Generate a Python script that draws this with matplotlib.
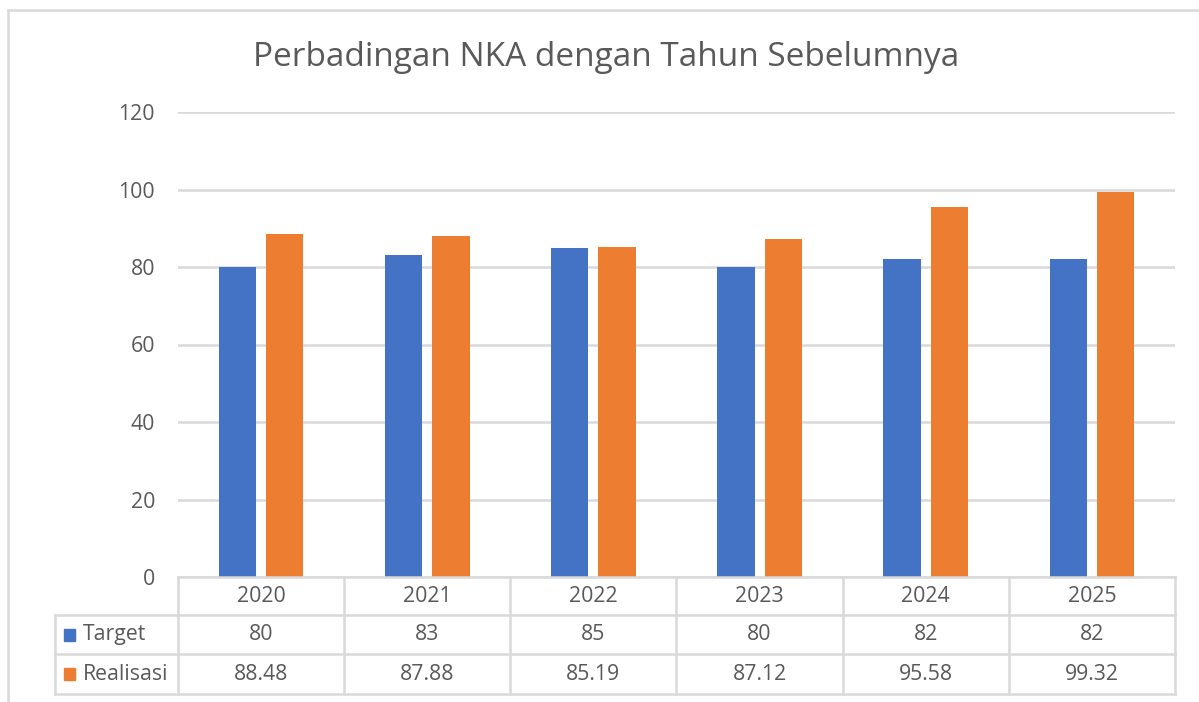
import matplotlib
matplotlib.use("Agg")
import matplotlib.pyplot as plt
from matplotlib.lines import Line2D
from matplotlib.patches import Rectangle
import numpy as np

plt.rcParams['font.family'] = ['Open Sans', 'DejaVu Sans']

title = "Perbadingan NKA dengan Tahun Sebelumnya"
years = ["2020", "2021", "2022", "2023", "2024", "2025"]
target = [80, 83, 85, 80, 82, 82]
realisasi = [88.48, 87.88, 85.19, 87.12, 95.58, 99.32]
target_labels = ["80", "83", "85", "80", "82", "82"]
realisasi_labels = ["88.48", "87.88", "85.19", "87.12", "95.58", "99.32"]
series_names = ["Target", "Realisasi"]
yticks = [0, 20, 40, 60, 80, 100, 120]

BLUE = "#4472C4"
ORANGE = "#ED7D31"
GRID = "#D9D9D9"
TXT = "#595959"
FS = 15.3

W, H = 1199, 702
fig = plt.figure(figsize=(W / 100, H / 100), dpi=100)

def fx(px):
    return px / W

def fy(py):
    return 1 - py / H

ax = fig.add_axes([fx(178), fy(577), fx(1175) - fx(178), fy(112) - fy(577)])
n = len(years)
x = np.arange(n) + 0.5
bw = 0.225
off = 0.1425
ax.bar(x - off, target, width=bw, color=BLUE, zorder=3)
ax.bar(x + off, realisasi, width=bw, color=ORANGE, zorder=3)
ax.set_xlim(0, n)
ax.set_ylim(0, 120)
ax.set_yticks(yticks)
ax.set_yticklabels([str(t) for t in yticks], fontsize=FS, color=TXT)
ax.tick_params(axis='y', length=0, pad=16.5)
ax.set_xticks([])
ax.grid(axis='y', color=GRID, linewidth=1.8, zorder=0)
for s in ax.spines.values():
    s.set_visible(False)

fig.text(fx(606), fy(57), title, ha='center', va='center', fontsize=24, color=TXT)

# chart outer border (left and top)
lw = 1.8
fig.add_artist(Line2D([fx(8), fx(8)], [fy(10), fy(702)], color=GRID, linewidth=lw))
fig.add_artist(Line2D([fx(8), fx(1199)], [fy(10), fy(10)], color=GRID, linewidth=lw))

# data table
row_y = [577, 615, 654, 694]
col_x = [178 + i * (1175 - 178) / n for i in range(n + 1)]
fig.add_artist(Line2D([fx(178), fx(1175)], [fy(577), fy(577)], color=GRID, linewidth=lw))
for yy in row_y[1:]:
    fig.add_artist(Line2D([fx(55), fx(1175)], [fy(yy), fy(yy)], color=GRID, linewidth=lw))
for xx in col_x:
    fig.add_artist(Line2D([fx(xx), fx(xx)], [fy(577), fy(694)], color=GRID, linewidth=lw))
fig.add_artist(Line2D([fx(55), fx(55)], [fy(615), fy(694)], color=GRID, linewidth=lw))

for i in range(n):
    cx = (col_x[i] + col_x[i + 1]) / 2
    fig.text(fx(cx), fy((row_y[0] + row_y[1]) / 2), years[i], ha='center', va='center', fontsize=FS, color=TXT)
    fig.text(fx(cx), fy((row_y[1] + row_y[2]) / 2), target_labels[i], ha='center', va='center', fontsize=FS, color=TXT)
    fig.text(fx(cx), fy((row_y[2] + row_y[3]) / 2), realisasi_labels[i], ha='center', va='center', fontsize=FS, color=TXT)

for k, (name, col) in enumerate(zip(series_names, [BLUE, ORANGE])):
    cy = (row_y[k + 1] + row_y[k + 2]) / 2
    fig.add_artist(Rectangle((fx(64), fy(cy + 6)), fx(11), fy(0) - fy(12), color=col, transform=fig.transFigure))
    fig.text(fx(83), fy(cy), name, ha='left', va='center', fontsize=FS, color=TXT)

fig.savefig("out.png", dpi=100)
